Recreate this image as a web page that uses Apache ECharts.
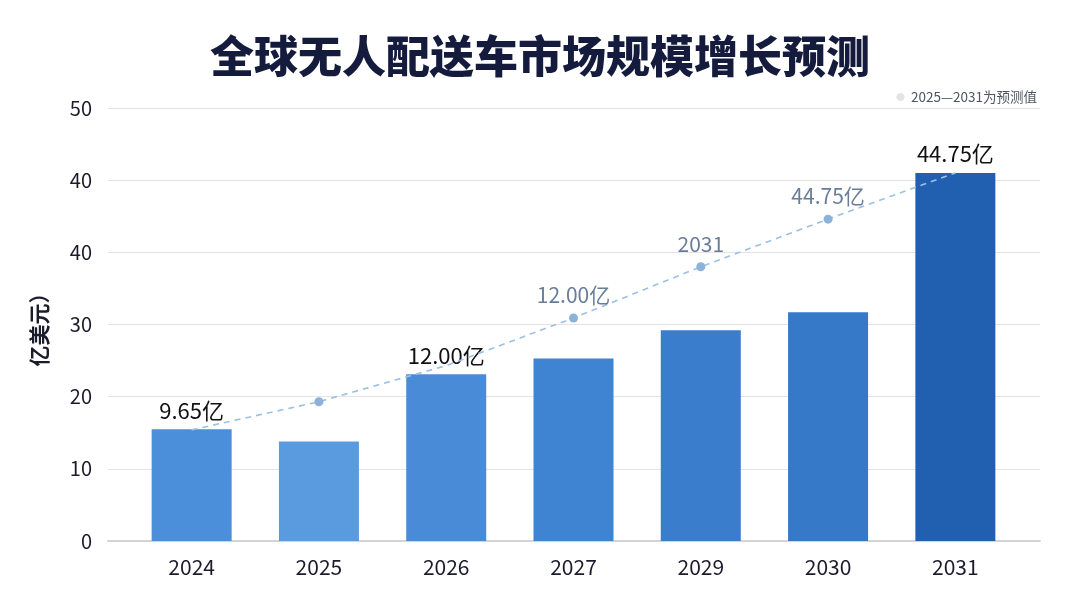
<!DOCTYPE html>
<html>
<head>
<meta charset="utf-8">
<script src="https://cdn.jsdelivr.net/npm/echarts@6/dist/echarts.min.js"></script>
<style>
  html, body { margin: 0; padding: 0; background: #ffffff; }
  #chart { width: 1080px; height: 607px; }
</style>
</head>
<body>
<div id="chart"></div>
<script>
// categories and values (axis units)
const years = ["2024", "2025", "2026", "2027", "2029", "2030", "2031"];
const barValues = [15.5, 13.8, 23.1, 25.3, 29.2, 31.7, 51.0];
const barLabels = ["9.65亿", "", "12.00亿", "", "", "", "44.75亿"];
const lineValues = [15.4, 19.3, 24.3, 30.9, 38.0, 44.6, 51.0];
const lineLabels = ["", "", "", "12.00亿", "2031", "44.75亿", ""];
const lineDots = [false, true, false, true, true, true, false];
const yTickLabels = ["0", "10", "20", "30", "40", "40", "50"];

const barColors = ["#4b8ed9", "#5a9bdf", "#4a8bd7", "#3f84d2", "#3a7dcc", "#3679c8", "#2160b1"];

const font = "'Noto Sans CJK SC', 'Noto Sans', sans-serif";
const chart = echarts.init(document.getElementById("chart"));

chart.setOption({
  backgroundColor: "#ffffff",
  textStyle: { fontFamily: font },
  title: [
    {
      text: "全球无人配送车市场规模增长预测",
      left: "center",
      top: 29,
      textStyle: { fontSize: 44, fontWeight: 900, color: "#141b3c", fontFamily: font },
    },
    {
      text: "{d|●}  2025—2031为预测值",
      right: 38,
      top: 85,
      textStyle: {
        fontSize: 13.5,
        fontWeight: 400,
        color: "#505560",
        fontFamily: font,
        rich: { d: { fontSize: 9, color: "#e2e4e8" } },
      },
    },
  ],
  grid: [
    { left: 108, right: 40, top: 108, bottom: 66 },
    { left: 128, right: 61, top: 108, bottom: 66 },
  ],
  xAxis: [
    {
      gridIndex: 0,
      type: "value",
      min: 0,
      max: 1,
      axisLine: { show: true, lineStyle: { color: "#d4d4d4", width: 2 } },
      axisTick: { show: false },
      axisLabel: { show: false },
      splitLine: { show: false },
    },
    {
      gridIndex: 1,
      type: "category",
      data: years,
      axisLine: { show: false },
      axisTick: { show: false },
      axisLabel: { margin: 16, fontSize: 21, color: "#1b1b2b", fontFamily: font },
    },
  ],
  yAxis: [
    {
      gridIndex: 0,
      type: "value",
      min: 0,
      max: 60,
      interval: 10,
      name: "亿美元）",
      nameLocation: "middle",
      nameRotate: 90,
      nameGap: 58,
      nameTextStyle: { fontSize: 21, fontWeight: 700, color: "#1b1b2b", fontFamily: font },
      axisLine: { show: false },
      axisTick: { show: false },
      axisLabel: {
        margin: 16,
        fontSize: 20,
        color: "#1b1b2b",
        fontFamily: font,
        formatter: (v) => yTickLabels[Math.round(v / 10)],
      },
      splitLine: { lineStyle: { color: "#e4e4e4", width: 1 } },
    },
    {
      gridIndex: 1,
      type: "value",
      min: 0,
      max: 60,
      interval: 10,
      show: false,
      splitLine: { show: false },
    },
  ],
  series: [
    {
      type: "bar",
      xAxisIndex: 1,
      yAxisIndex: 1,
      barWidth: 80,
      data: barValues.map((v, i) => ({
        value: v,
        itemStyle: { color: barColors[i] },
        label: { show: barLabels[i] !== "", formatter: barLabels[i] },
      })),
      label: {
        position: "top",
        distance: 8,
        fontSize: 22,
        color: "#111111",
        fontFamily: font,
      },
      z: 2,
    },
    {
      type: "line",
      xAxisIndex: 1,
      yAxisIndex: 1,
      data: lineValues.map((v, i) => ({
        value: v,
        symbol: lineDots[i] ? "circle" : "none",
        label: { show: lineLabels[i] !== "", formatter: lineLabels[i] },
      })),
      symbolSize: 9,
      itemStyle: { color: "#8db2d9" },
      lineStyle: { color: "#9cc0e3", width: 1.6, type: [6, 5] },
      label: {
        position: "top",
        distance: 8,
        fontSize: 21,
        color: "#697d99",
        fontFamily: font,
      },
      z: 3,
    },
  ],
});
</script>
</body>
</html>
